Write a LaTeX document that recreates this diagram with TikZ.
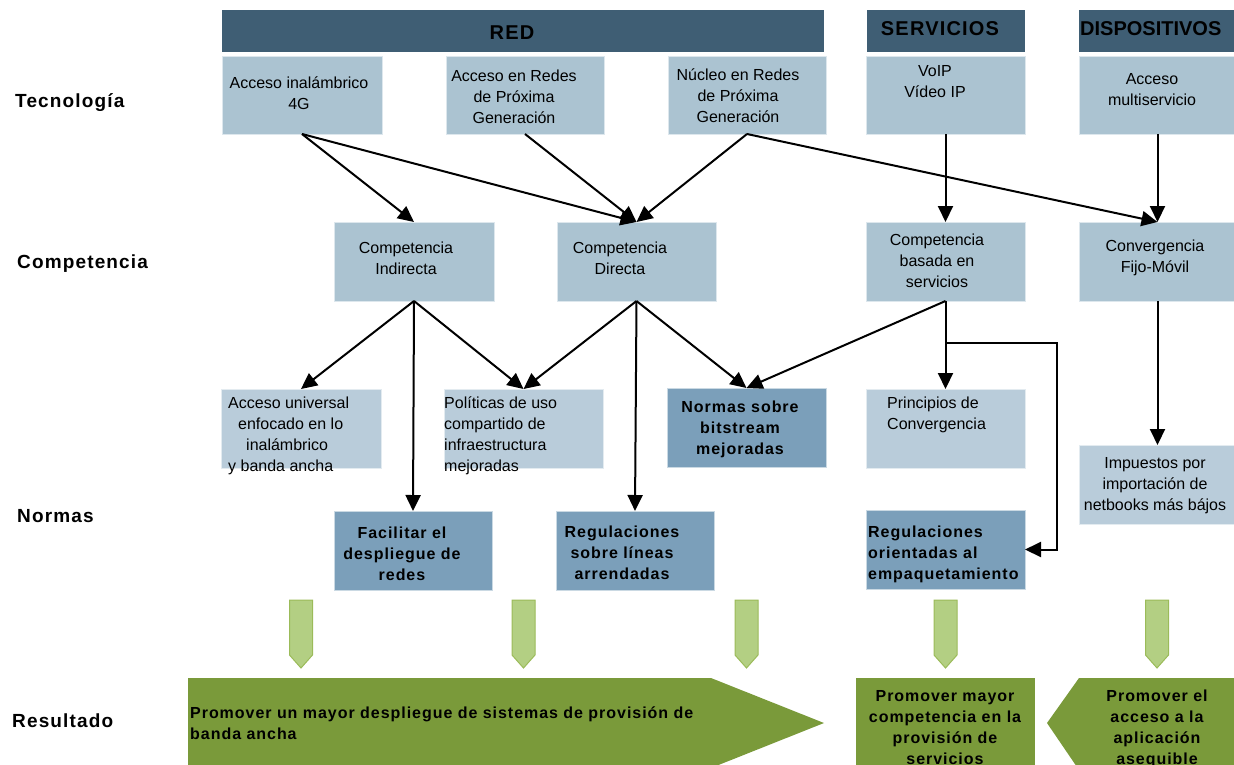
\documentclass[tikz,border=0pt]{standalone}
\usepackage{fontspec}
\setmainfont{Liberation Sans}
\newfontfamily\widesans[LetterSpace=6]{Liberation Sans}
\newfontfamily\labelsans[LetterSpace=6]{Liberation Sans}
\usetikzlibrary{arrows.meta,calc}

\definecolor{barblue}{HTML}{3F5E74}
\definecolor{techblue}{HTML}{ABC3D1}
\definecolor{paleblue}{HTML}{B9CCDA}
\definecolor{deepblue}{HTML}{7B9FBA}
\definecolor{tipgreen}{HTML}{B3CF83}
\definecolor{tipedge}{HTML}{9BBB59}
\definecolor{olivegreen}{HTML}{7A9A3A}

\tikzset{
  panel/.style={fill=#1, draw=white!60!#1, line width=0.6pt, inner sep=0pt, outer sep=0pt},
  bar/.style={fill=barblue, inner sep=0pt, outer sep=0pt},
  txt/.style={inner sep=0pt, font=\fontsize{16}{21}\selectfont, align=center, anchor=north},
  ltxt/.style={txt, align=left, anchor=north west},
  btxt/.style={txt, font=\widesans\bfseries\fontsize{16}{21}\selectfont},
  lbtxt/.style={btxt, align=left, anchor=north west},
  headtxt/.style={inner sep=0pt, font=\widesans\bfseries\fontsize{20}{24}\selectfont, anchor=base},
  rowlabel/.style={inner sep=0pt, font=\labelsans\bfseries\fontsize{19}{23}\selectfont, anchor=base west},
  conn/.style={draw=black, line width=2pt, -{Triangle[length=16pt,width=15pt]}},
  greentip/.style={fill=tipgreen, draw=tipedge, line width=1pt},
}

\begin{document}
\begin{tikzpicture}[x=1pt,y=-1pt]
\useasboundingbox (0,0) rectangle (1234,764);
\clip (0,0) rectangle (1234,764);

% column headers
\node[bar, minimum width=602pt, minimum height=42pt] (hred) at (523,31) {};
\node[bar, minimum width=158pt, minimum height=42pt] (hserv) at (946,31) {};
\node[bar, minimum width=157pt, minimum height=42pt] (hdisp) at (1157.5,31) {};
\node[headtxt] (hredt) at (512,39) {RED};
\node[headtxt] (hservt) at (940,35) {SERVICIOS};
\node[headtxt, anchor=base west, font=\bfseries\fontsize{20}{24}\selectfont] (hdispt) at (1080,35) {DISPOSITIVOS};

% row labels
\node[rowlabel] (lbltec) at (15,107) {Tecnología};
\node[rowlabel] (lblcomp) at (17,268) {Competencia};
\node[rowlabel] (lblnorm) at (17,522) {Normas};
\node[rowlabel] (lblres) at (12,727) {Resultado};

% technology row
\node[panel=techblue, minimum width=160pt, minimum height=78pt] (acc4g) at (302,95) {};
\node[panel=techblue, minimum width=158pt, minimum height=78pt] (accngn) at (525,95) {};
\node[panel=techblue, minimum width=158pt, minimum height=78pt] (corengn) at (747,95) {};
\node[panel=techblue, minimum width=159pt, minimum height=78pt] (voip) at (945.5,95) {};
\node[panel=techblue, minimum width=157pt, minimum height=78pt] (multi) at (1157.5,95) {};

\node[txt] (acc4gt) at (299,74) {\strut Acceso inalámbrico\\4G};
\node[txt] (accngnt) at (514,67) {\strut Acceso en Redes\\de Próxima\\Generación};
\node[txt] (corengnt) at (738,66) {\strut Núcleo en Redes\\de Próxima\\Generación};
\node[txt] (voipt) at (935,62) {\strut VoIP\\Vídeo IP};
\node[txt] (multit) at (1152,70) {\strut Acceso\\multiservicio};

% competition row
\node[panel=techblue, minimum width=160pt, minimum height=79pt] (cind) at (414,261.5) {};
\node[panel=techblue, minimum width=159pt, minimum height=79pt] (cdir) at (636.5,261.5) {};
\node[panel=techblue, minimum width=159pt, minimum height=79pt] (cserv) at (945.5,261.5) {};
\node[panel=techblue, minimum width=157pt, minimum height=79pt] (fmc) at (1157.5,261.5) {};

\node[txt] (cindt) at (406,239) {\strut Competencia\\Indirecta};
\node[txt] (cdirt) at (620,239) {\strut Competencia\\Directa};
\node[txt] (cservt) at (937,231) {\strut Competencia\\basada en\\servicios};
\node[txt] (fmct) at (1155,237) {\strut Convergencia\\Fijo-Móvil};

% rules, first tier
\node[panel=paleblue, minimum width=160pt, minimum height=79pt] (univ) at (301,428.5) {};
\node[panel=paleblue, minimum width=159pt, minimum height=79pt] (infra) at (523.5,428.5) {};
\node[panel=deepblue, minimum width=159pt, minimum height=79pt] (bitstr) at (746.5,427.5) {};
\node[panel=paleblue, minimum width=159pt, minimum height=79pt] (princ) at (945.5,428.5) {};
\node[panel=paleblue, minimum width=157pt, minimum height=79pt] (tax) at (1157.5,484.5) {};

\node[ltxt] (univt) at (228,394) {\strut Acceso universal\\\hspace*{10pt}enfocado en lo\\\hspace*{18pt}inalámbrico\\y banda ancha};
\node[ltxt] (infrat) at (444,394) {\strut Políticas de uso\\compartido de\\infraestructura\\mejoradas};
\node[btxt] (bitstrt) at (740,398) {\strut Normas sobre\\bitstream\\mejoradas};
\node[ltxt] (princt) at (887,394) {\strut Principios de\\Convergencia};
\node[txt] (taxt) at (1155,454) {\strut Impuestos por\\importación de\\netbooks más bájos};

% rules, second tier
\node[panel=deepblue, minimum width=158pt, minimum height=79pt] (deploy) at (413,550.5) {};
\node[panel=deepblue, minimum width=158pt, minimum height=79pt] (leased) at (635,550.5) {};
\node[panel=deepblue, minimum width=159pt, minimum height=79pt] (bundle) at (945.5,549.5) {};

\node[btxt] (deployt) at (402,524) {\strut Facilitar el\\despliegue de\\redes};
\node[btxt] (leasedt) at (622,523) {\strut Regulaciones\\sobre líneas\\arrendadas};
\node[lbtxt] (bundlet) at (868,523) {\strut Regulaciones\\orientadas al\\empaquetamiento};

% connectors
\draw[conn] (acc4g.south) -- (cind.north);
\draw[conn] (acc4g.south) -- (cdir.north);
\draw[conn] (accngn.south) -- (cdir.north);
\draw[conn] (corengn.south) -- (cdir.north);
\draw[conn] (corengn.south) -- (fmc.north);
\draw[conn] (voip.south) -- (cserv.north);
\draw[conn] (multi.south) -- (fmc.north);

\draw[conn] (cind.south) -- (univ.north);
\draw[conn] (cind.south) -- (infra.north);
\draw[conn] (cind.south) -- (deploy.north);
\draw[conn] (cdir.south) -- (infra.north);
\draw[conn] (cdir.south) -- (leased.north);
\draw[conn] (cdir.south) -- (bitstr.north);
\draw[conn] (cserv.south) -- (bitstr.north);
\draw[conn] (cserv.south) -- (princ.north);
\draw[conn] (fmc.south) -- (tax.north);

\coordinate (tap) at ($(cserv.south)+(0,42)$);
\coordinate (bend) at (1057,343);
\draw[conn] (tap) -- (bend) |- (bundle.east);

% green pointers into the outcomes
\foreach \gx in {301,523.5,746.5,945.5,1157}
  \draw[greentip] (\gx-11.5,600) -- (\gx+11.5,600) -- (\gx+11.5,655)
                  -- (\gx,668) -- (\gx-11.5,655) -- cycle;

% outcomes
\fill[olivegreen] (188,678) -- (711,678) -- (824,723) -- (711,768) -- (188,768) -- cycle;
\fill[olivegreen] (856,678) rectangle (1035,770);
\fill[olivegreen] (1079,678) -- (1240,678) -- (1240,770) -- (1079,770) -- (1047,723) -- cycle;

\node[lbtxt] (res1) at (190,704) {\strut Promover un mayor despliegue de sistemas de provisión de\\banda ancha};
\node[btxt] (res2) at (945,687) {\strut Promover mayor\\competencia en la\\provisión de\\servicios};
\node[btxt] (res3) at (1157,687) {\strut Promover el\\acceso a la\\aplicación\\asequible};
\end{tikzpicture}
\end{document}
